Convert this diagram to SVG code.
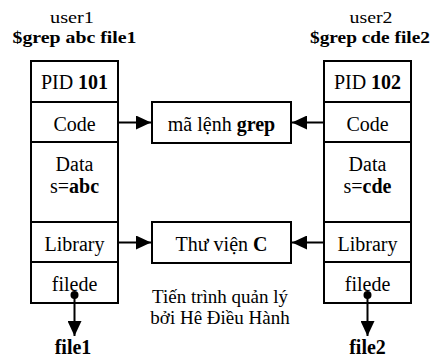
<svg xmlns="http://www.w3.org/2000/svg" width="438" height="358" viewBox="0 0 438 358">
<style>
text{font-family:"Liberation Serif","Times New Roman",serif;fill:#000;text-anchor:middle}
.t{font-size:20px}
.h{font-size:17px}
.c{font-size:19px}
.b{font-weight:bold}
.box{fill:#fff;stroke:#000;stroke-width:2}
.ln{stroke:#000;stroke-width:2;fill:none}
.conn{stroke:#000;stroke-width:2;fill:none}
</style>
<defs>
<marker id="ah" viewBox="0 0 15 14" refX="15" refY="7" markerWidth="15" markerHeight="14" markerUnits="userSpaceOnUse" orient="auto">
<path d="M0,0 L15,7 L0,14 z" fill="#000"/>
</marker>
</defs>
<rect width="438" height="358" fill="#fff"/>

<g id="header1">
<text class="h" x="72" y="23" textLength="44" lengthAdjust="spacingAndGlyphs">user1</text>
<text class="h b" x="74.5" y="43" textLength="124" lengthAdjust="spacingAndGlyphs">$grep abc file1</text>
</g>
<g id="header2">
<text class="h" x="371" y="23" textLength="43" lengthAdjust="spacingAndGlyphs">user2</text>
<text class="h b" x="370" y="43" textLength="120" lengthAdjust="spacingAndGlyphs">$grep cde file2</text>
</g>

<g id="process1">
<rect class="box" x="31" y="61" width="87" height="242"/>
<line class="ln" x1="31" y1="102" x2="118" y2="102"/>
<line class="ln" x1="31" y1="142" x2="118" y2="142"/>
<line class="ln" x1="31" y1="222" x2="118" y2="222"/>
<line class="ln" x1="31" y1="262" x2="118" y2="262"/>
<text class="t" x="74.5" y="89">PID <tspan class="b">101</tspan></text>
<text class="t" x="74.5" y="131">Code</text>
<text class="t" x="74.5" y="171">Data</text>
<text class="t" x="74.5" y="193">s=<tspan class="b">abc</tspan></text>
<text class="t" x="74.5" y="251">Library</text>
<text class="t" x="74.5" y="291">filede</text>
</g>

<g id="process2">
<rect class="box" x="324" y="61" width="87" height="242"/>
<line class="ln" x1="324" y1="102" x2="411" y2="102"/>
<line class="ln" x1="324" y1="142" x2="411" y2="142"/>
<line class="ln" x1="324" y1="222" x2="411" y2="222"/>
<line class="ln" x1="324" y1="262" x2="411" y2="262"/>
<text class="t" x="367.5" y="89">PID <tspan class="b">102</tspan></text>
<text class="t" x="367.5" y="131">Code</text>
<text class="t" x="367.5" y="171">Data</text>
<text class="t" x="367.5" y="193">s=<tspan class="b">cde</tspan></text>
<text class="t" x="367.5" y="251">Library</text>
<text class="t" x="367.5" y="291">filede</text>
</g>

<g id="grepcode">
<rect class="box" x="152" y="102" width="139" height="41"/>
<text class="t" x="221.5" y="131">mã lệnh <tspan class="b">grep</tspan></text>
</g>

<g id="libc">
<rect class="box" x="152" y="222" width="139" height="41"/>
<text class="t" x="221.5" y="251">Thư viện <tspan class="b">C</tspan></text>
</g>

<g id="caption">
<text class="c" x="220" y="303">Tiến trình quản lý</text>
<text class="c" x="220" y="324">bởi Hê Điều Hành</text>
</g>

<g id="file1">
<text class="t b" x="73" y="354">file1</text>
</g>
<g id="file2">
<text class="t b" x="367.5" y="354">file2</text>
</g>

<g id="connectors">
<line class="conn" x1="118" y1="122.5" x2="151" y2="122.5" marker-end="url(#ah)"/>
<line class="conn" x1="324" y1="122.5" x2="292" y2="122.5" marker-end="url(#ah)"/>
<line class="conn" x1="118" y1="242.5" x2="151" y2="242.5" marker-end="url(#ah)"/>
<line class="conn" x1="324" y1="242.5" x2="292" y2="242.5" marker-end="url(#ah)"/>
<circle cx="74.5" cy="295" r="4" fill="#000"/>
<line class="conn" x1="74.5" y1="295" x2="74.5" y2="336" marker-end="url(#ah)"/>
<circle cx="367.5" cy="295" r="4" fill="#000"/>
<line class="conn" x1="367.5" y1="295" x2="367.5" y2="336" marker-end="url(#ah)"/>
</g>
</svg>
